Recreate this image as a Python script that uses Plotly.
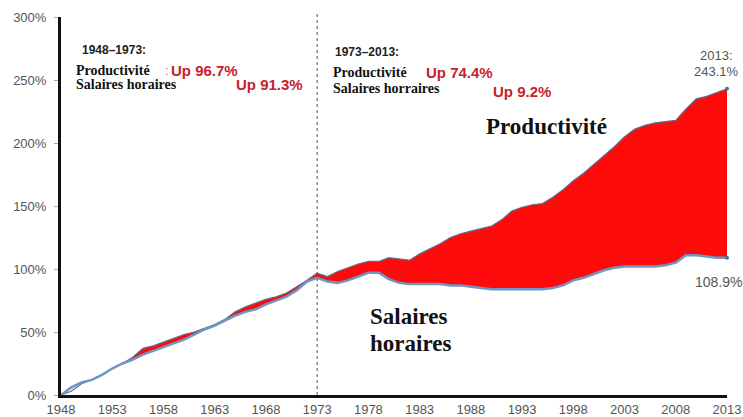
import numpy as np
import plotly.graph_objects as go

years = list(range(1948, 2014))

productivite = [
    0, 3, 9, 12, 16, 21, 25, 30, 37, 39, 42, 45, 48, 50, 53, 56, 60, 66, 70, 73,
    76, 78, 81, 86, 91, 96.7,
    94, 98, 101, 104, 106, 106, 109, 108, 107, 112, 116, 120, 125, 128, 130, 132,
    134, 139, 146, 149, 151, 152, 157, 163, 170, 176, 183, 190, 197, 205, 211,
    214, 216, 217, 218, 227, 235, 237, 240, 243.1,
]

salaires = [
    0, 6, 10, 12, 16, 21, 25, 28, 32, 35, 38, 41, 44, 48, 52, 55, 59, 63, 66, 68,
    72, 75, 78, 83, 90, 93,
    90, 89, 91, 94, 97, 97, 92, 89, 88, 88, 88, 88, 87, 87, 86, 85,
    84, 84, 84, 84, 84, 84, 85, 87, 91, 93, 96, 99, 101, 102, 102,
    102, 102, 103, 105, 111, 111, 110, 109, 108.9,
]

y_ticks = [0, 50, 100, 150, 200, 250, 300]
y_tick_labels = ["0%", "50%", "100%", "150%", "200%", "250%", "300%"]
x_ticks = list(range(1948, 2014, 5))

SERIF = "Liberation Serif"
SANS = "Liberation Sans"
RED_TXT = "#c8202e"
GRAY_TXT = "#555555"

upper = np.maximum(np.array(productivite), np.array(salaires))

fig = go.Figure()
fig.add_trace(go.Scatter(x=years, y=salaires, mode="lines",
                         line=dict(width=0, color="rgba(0,0,0,0)"),
                         showlegend=False, hoverinfo="skip"))
fig.add_trace(go.Scatter(x=years, y=upper, mode="lines", fill="tonexty",
                         fillcolor="#ff0a0a", line=dict(width=0, color="rgba(0,0,0,0)"),
                         showlegend=False, hoverinfo="skip"))
fig.add_trace(go.Scatter(x=years, y=productivite, mode="lines",
                         line=dict(width=1.2, color="#5a6f93"),
                         name="Productivité", showlegend=False))
fig.add_trace(go.Scatter(x=years, y=salaires, mode="lines",
                         line=dict(width=2.5, color="#7096c4"),
                         name="Salaires horaires", showlegend=False))
fig.add_trace(go.Scatter(x=[years[-1], years[-1]], y=[productivite[-1], salaires[-1]],
                         mode="markers", marker=dict(size=4, color="#4a6fa0"),
                         showlegend=False, hoverinfo="skip", cliponaxis=False))

# vertical dotted separator at 1973
fig.add_shape(type="line", x0=1973, x1=1973, y0=0, y1=1.01, xref="x", yref="paper",
              line=dict(color="#555555", width=1, dash="dot"))


def px2x(px):
    return 1948 + (px - 61) / 10.246


def py2y(py):
    return (395 - py) / 1.26


def ann(text, px, py, size, family, color, bold=True, xanchor="left"):
    t = f"<b>{text}</b>" if bold else text
    fig.add_annotation(x=px2x(px), y=py2y(py), xref="x", yref="y", text=t,
                       showarrow=False, xanchor=xanchor, yanchor="middle",
                       font=dict(size=size, family=family, color=color), borderpad=0)


# left block
ann("1948–1973:", 81, 50, 12, SANS, "#222222")
ann("Productivité", 75, 70, 14, SERIF, "#111111")
ann(":", 164, 70, 13, SANS, "#888888", bold=False)
ann("Up 96.7%", 170, 70, 15, SANS, RED_TXT)
ann("Salaires horaires", 75, 84, 14, SERIF, "#111111")
ann("Up 91.3%", 235, 84, 15, SANS, RED_TXT)

# right block
ann("1973–2013:", 334, 52, 12, SANS, "#222222")
ann("Productivité", 332, 72, 14, SERIF, "#111111")
ann("Up 74.4%", 425, 72, 15, SANS, RED_TXT)
ann("Salaires horraires", 332, 88, 14, SERIF, "#111111")
ann("Up 9.2%", 492, 91, 15, SANS, RED_TXT)

# end labels
ann("2013:", 716, 55, 13, SANS, GRAY_TXT, bold=False, xanchor="center")
ann("243.1%", 716, 71, 13, SANS, GRAY_TXT, bold=False, xanchor="center")
ann("108.9%", 694, 282, 14, SANS, GRAY_TXT, bold=False)

# big labels
ann("Productivité", 485, 126, 23, SERIF, "#111111")
ann("Salaires", 369, 316, 23, SERIF, "#111111")
ann("horaires", 369, 343, 23, SERIF, "#111111")

fig.update_layout(
    width=743, height=417,
    margin=dict(l=61, r=16, t=17, b=22, autoexpand=False),
    paper_bgcolor="white", plot_bgcolor="white",
    font=dict(family=SANS, color=GRAY_TXT),
)
fig.update_xaxes(range=[1948, 2013], tickvals=x_ticks, ticktext=[str(v) for v in x_ticks],
                 showgrid=False, zeroline=False, showline=True, linewidth=3, linecolor="#111111",
                 ticks="", automargin=False,
                 tickfont=dict(size=13, family=SANS, color=GRAY_TXT))
fig.update_yaxes(range=[0, 300], tickvals=y_ticks, ticktext=y_tick_labels,
                 showgrid=False, zeroline=False, showline=True, linewidth=3, linecolor="#111111",
                 ticks="outside", ticklen=4, tickcolor="#aaaaaa", automargin=False,
                 ticklabelstandoff=5,
                 tickfont=dict(size=13, family=SANS, color=GRAY_TXT))

fig.write_html("out.html")
